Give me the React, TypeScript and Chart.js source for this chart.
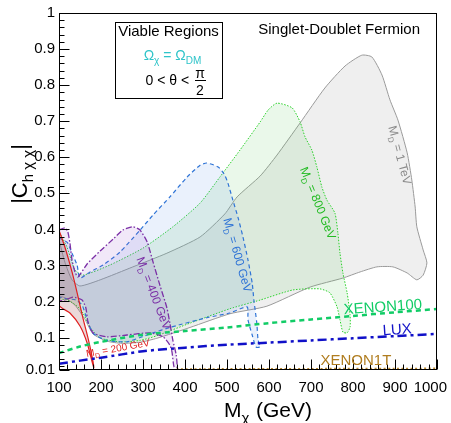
import { useEffect, useRef } from 'react';
import { Chart, registerables } from 'chart.js';

Chart.register(...registerables);

const FONT = '"Liberation Sans", Arial, Helvetica, sans-serif';

// Axis ticks
const X_TICKS = [100, 200, 300, 400, 500, 600, 700, 800, 900, 1000];
const X_TICK_LABELS = ['100', '200', '300', '400', '500', '600', '700', '800', '900', '1000'];
const Y_TICKS = [0.01, 0.1, 0.2, 0.3, 0.4, 0.5, 0.6, 0.7, 0.8, 0.9, 1];
const Y_TICK_LABELS = ['0.01', '0.1', '0.2', '0.3', '0.4', '0.5', '0.6', '0.7', '0.8', '0.9', '1'];

// Viable-region contours: M_chi (GeV) and |C_h chi chi|
const MD1000_M = [100, 114, 131, 150, 198, 276, 357, 436, 495, 524, 579, 619, 674, 733, 781, 821, 845, 869, 888, 907, 929, 940, 948, 952, 967, 976, 967, 952, 929, 895, 857, 817, 776, 698, 595, 507, 412, 333, 293, 250, 214, 181, 162, 138, 114, 100];
const MD1000_C = [0.371, 0.309, 0.260, 0.243, 0.260, 0.296, 0.334, 0.379, 0.443, 0.490, 0.548, 0.606, 0.695, 0.792, 0.853, 0.883, 0.878, 0.828, 0.759, 0.703, 0.612, 0.537, 0.462, 0.407, 0.343, 0.307, 0.273, 0.260, 0.279, 0.296, 0.296, 0.282, 0.265, 0.240, 0.187, 0.166, 0.128, 0.098, 0.087, 0.084, 0.090, 0.110, 0.150, 0.190, 0.210, 0.218];

const MD800_M = [100, 107, 119, 131, 138, 157, 221, 300, 371, 436, 483, 531, 579, 598, 619, 655, 674, 686, 702, 714, 726, 738, 757, 764, 769, 776, 786, 793, 793, 786, 776, 769, 762, 745, 721, 657, 579, 507, 412, 333, 293, 245, 198, 174, 157, 143, 121, 100];
const MD800_C = [0.393, 0.379, 0.351, 0.309, 0.287, 0.273, 0.301, 0.348, 0.407, 0.473, 0.545, 0.620, 0.698, 0.731, 0.750, 0.737, 0.698, 0.656, 0.620, 0.573, 0.517, 0.481, 0.445, 0.390, 0.334, 0.279, 0.224, 0.163, 0.129, 0.113, 0.115, 0.149, 0.185, 0.224, 0.235, 0.232, 0.204, 0.180, 0.140, 0.105, 0.092, 0.088, 0.099, 0.129, 0.168, 0.187, 0.204, 0.210];

const MD600_M = [100, 110, 121, 131, 143, 150, 174, 205, 245, 293, 324, 364, 405, 436, 452, 479, 493, 502, 514, 526, 538, 550, 560, 564, 571, 574, 579, 569, 560, 550, 548, 507, 452, 364, 324, 293, 262, 214, 181, 167, 155, 140, 100];
const MD600_C = [0.376, 0.371, 0.362, 0.334, 0.301, 0.265, 0.282, 0.301, 0.337, 0.398, 0.440, 0.490, 0.545, 0.578, 0.584, 0.573, 0.554, 0.529, 0.481, 0.434, 0.379, 0.315, 0.251, 0.204, 0.140, 0.093, 0.074, 0.074, 0.107, 0.149, 0.185, 0.168, 0.155, 0.128, 0.113, 0.100, 0.088, 0.092, 0.112, 0.149, 0.190, 0.204, 0.215];

const MD400_M = [100, 114, 121, 126, 131, 138, 145, 167, 198, 229, 252, 276, 293, 310, 324, 340, 357, 364, 371, 379, 381, 374, 369, 364, 348, 317, 262, 214, 181, 169, 164, 155, 133, 114, 100];
const MD400_C = [0.398, 0.404, 0.393, 0.362, 0.315, 0.282, 0.268, 0.304, 0.340, 0.373, 0.398, 0.407, 0.398, 0.365, 0.309, 0.246, 0.182, 0.140, 0.093, 0.052, 0.018, 0.018, 0.060, 0.079, 0.102, 0.113, 0.107, 0.102, 0.113, 0.143, 0.182, 0.204, 0.212, 0.204, 0.204];

const MD200_M = [100, 114, 131, 145, 157, 169, 179, 183, 179, 167, 150, 126, 100];
const MD200_C = [0.398, 0.351, 0.282, 0.215, 0.154, 0.099, 0.046, 0.016, 0.032, 0.085, 0.132, 0.168, 0.190];

// Direct-detection limits
const XENON100_M = [100, 150, 200, 300, 400, 500, 600, 700, 800, 900, 1000];
const XENON100_C = [0.057, 0.075, 0.088, 0.108, 0.118, 0.128, 0.140, 0.150, 0.160, 0.170, 0.179];
const LUX_M = [100, 150, 200, 300, 400, 500, 600, 700, 800, 900, 1000];
const LUX_C = [0.027, 0.036, 0.044, 0.062, 0.072, 0.080, 0.086, 0.092, 0.098, 0.104, 0.110];
const XENON1T_M = [380, 500, 600, 700, 800, 900, 1000];
const XENON1T_C = [0.012, 0.0125, 0.013, 0.013, 0.0135, 0.0135, 0.014];

type Part = { t: string; sub?: boolean };

function drawParts(ctx: CanvasRenderingContext2D, parts: Part[], x: number, y: number, size: number, color: string, align: 'left' | 'center' | 'right' = 'center') {
  ctx.fillStyle = color;
  ctx.textBaseline = 'alphabetic';
  ctx.textAlign = 'left';
  const fontOf = (p: Part) => `${p.sub ? Math.round(size * 0.7) : size}px ${FONT}`;
  const widths = parts.map((p) => {
    ctx.font = fontOf(p);
    return ctx.measureText(p.t).width;
  });
  const total = widths.reduce((a, b) => a + b, 0);
  let cx = align === 'center' ? x - total / 2 : align === 'right' ? x - total : x;
  parts.forEach((p, i) => {
    ctx.font = fontOf(p);
    ctx.fillText(p.t, cx, y + (p.sub ? size * 0.28 : 0));
    cx += widths[i];
  });
}

const REGION_LABELS = [
  { text: ' = 200 GeV', m: 240, c: 0.071, angle: -10, size: 10, color: '#e02020' },
  { text: ' = 400 GeV', m: 326, c: 0.223, angle: 69, size: 12, color: '#7b2fa6' },
  { text: ' = 600 GeV', m: 526, c: 0.329, angle: 74, size: 12, color: '#2f74d6' },
  { text: ' = 800 GeV', m: 717, c: 0.473, angle: 68, size: 12, color: '#22bb22' },
  { text: ' = 1 TeV', m: 912, c: 0.606, angle: 75, size: 12, color: '#8a8a8a' },
];

const LIMIT_LABELS = [
  { text: 'XENON100', m: 871, c: 0.187, angle: -4, size: 15, color: '#11cc66' },
  { text: 'LUX', m: 905, c: 0.124, angle: -4, size: 15, color: '#1414c8' },
  { text: 'XENON1T', m: 807, c: 0.040, angle: 0, size: 15, color: '#b07d1f' },
];

const rootPlugin = {
  id: 'rootStyle',
  afterDatasetsDraw(chart: any) {
    const { ctx, chartArea: a, scales } = chart;
    const xs = scales.x;
    const ys = scales.y;
    ctx.save();
    // frame
    ctx.strokeStyle = '#000';
    ctx.lineWidth = 1;
    ctx.setLineDash([]);
    const L = Math.round(a.left) + 0.5;
    const T = Math.round(a.top) + 0.5;
    const R = Math.round(a.right) - 0.5;
    const B = Math.round(a.bottom) - 0.5;
    ctx.strokeRect(L, T, R - L, B - T);
    // ticks
    ctx.beginPath();
    X_TICKS.forEach((v) => {
      const p = Math.round(xs.getPixelForValue(v)) + 0.5;
      ctx.moveTo(p, B);
      ctx.lineTo(p, B - 10);
    });
    for (let k = 0; k <= 45; k++) {
      if (k % 5 === 0) continue;
      const p = Math.round(xs.getPixelForValue(100 + 20 * k)) + 0.5;
      ctx.moveTo(p, B);
      ctx.lineTo(p, B - 5);
    }
    Y_TICKS.forEach((v) => {
      const p = Math.round(ys.getPixelForValue(v)) + 0.5;
      ctx.moveTo(L, p);
      ctx.lineTo(L + 10, p);
    });
    for (let k = 1; k < 50; k++) {
      if (k % 5 === 0) continue;
      const p = Math.round(ys.getPixelForValue(k * 0.02)) + 0.5;
      ctx.moveTo(L, p);
      ctx.lineTo(L + 5, p);
    }
    ctx.stroke();

    // x tick labels
    ctx.font = `15px ${FONT}`;
    ctx.fillStyle = '#000';
    ctx.textAlign = 'center';
    ctx.textBaseline = 'alphabetic';
    X_TICKS.forEach((v, i) => {
      const w = ctx.measureText(X_TICK_LABELS[i]).width;
      let p = xs.getPixelForValue(v);
      if (p + w / 2 > chart.width - 4) p = chart.width - 4 - w / 2;
      ctx.fillText(X_TICK_LABELS[i], p, a.bottom + 22);
    });

    // axis titles
    drawParts(ctx, [{ t: 'M' }, { t: 'χ', sub: true }], 224, 417, 21, '#000', 'left');
    drawParts(ctx, [{ t: '(GeV)' }], 256, 417, 21, '#000', 'left');
    ctx.save();
    ctx.translate(19, 174);
    ctx.rotate(-Math.PI / 2);
    drawParts(ctx, [{ t: '|C' }, { t: 'h χ χ', sub: true }, { t: '|' }], 0, 8, 22, '#000', 'center');
    ctx.restore();

    // region labels
    REGION_LABELS.forEach((l) => {
      ctx.save();
      ctx.translate(xs.getPixelForValue(l.m), ys.getPixelForValue(l.c));
      ctx.rotate((l.angle * Math.PI) / 180);
      drawParts(ctx, [{ t: 'M' }, { t: 'D', sub: true }, { t: l.text }], 0, l.size * 0.35, l.size, l.color, 'center');
      ctx.restore();
    });
    LIMIT_LABELS.forEach((l) => {
      ctx.save();
      ctx.translate(xs.getPixelForValue(l.m), ys.getPixelForValue(l.c));
      ctx.rotate((l.angle * Math.PI) / 180);
      drawParts(ctx, [{ t: l.text }], 0, l.size * 0.36, l.size, l.color, 'center');
      ctx.restore();
    });

    // title
    drawParts(ctx, [{ t: 'Singlet-Doublet Fermion' }], xs.getPixelForValue(767), a.top + 21, 15, '#000', 'center');

    // legend box
    const bx0 = Math.round(xs.getPixelForValue(233));
    const bx1 = Math.round(xs.getPixelForValue(488));
    const by0 = Math.round(ys.getPixelForValue(0.975));
    const by1 = Math.round(ys.getPixelForValue(0.764));
    ctx.fillStyle = '#fff';
    ctx.fillRect(bx0, by0, bx1 - bx0, by1 - by0);
    ctx.strokeStyle = '#000';
    ctx.lineWidth = 1;
    ctx.strokeRect(bx0 + 0.5, by0 + 0.5, bx1 - bx0, by1 - by0);
    const cx = (bx0 + bx1) / 2;
    drawParts(ctx, [{ t: 'Viable Regions' }], cx, by0 + 14, 15, '#000', 'center');
    drawParts(ctx, [{ t: 'Ω' }, { t: 'χ', sub: true }, { t: ' = Ω' }, { t: 'DM', sub: true }], cx + 4, by0 + 38, 14, '#2ec4c9', 'center');
    drawParts(ctx, [{ t: '0 < θ < ' }], bx0 + 78, by0 + 63, 14, '#000', 'right');
    drawParts(ctx, [{ t: 'π' }], bx0 + 85, by0 + 56, 14, '#000', 'center');
    ctx.fillStyle = '#000';
    ctx.fillRect(bx0 + 80, by0 + 58, 11, 1);
    drawParts(ctx, [{ t: '2' }], bx0 + 85, by0 + 73, 14, '#000', 'center');
    ctx.restore();
  },
};

function pts(M: number[], C: number[], close: boolean) {
  const d = M.map((m, i) => ({ x: m, y: C[i] }));
  if (close) d.push({ x: M[0], y: C[0] });
  return d;
}

export default function App() {
  const ref = useRef<HTMLCanvasElement>(null);
  useEffect(() => {
    const canvas = ref.current;
    if (!canvas) return;
    const region = (M: number[], C: number[], line: string, fill: string, dash: number[], width: number) => ({
      data: pts(M, C, true),
      borderColor: line,
      backgroundColor: fill,
      borderWidth: width,
      borderDash: dash,
      fill: 'shape',
      pointRadius: 0,
      tension: 0.2,
    });
    const limit = (M: number[], C: number[], line: string, dash: number[], width: number) => ({
      data: pts(M, C, false),
      borderColor: line,
      borderWidth: width,
      borderDash: dash,
      fill: false,
      pointRadius: 0,
      tension: 0.3,
    });
    const chart = new Chart(canvas, {
      type: 'line',
      data: {
        datasets: [
          limit(XENON100_M, XENON100_C, '#11cc66', [5, 4], 2.5),
          limit(LUX_M, LUX_C, '#1010c8', [9, 4, 3, 4], 2.5),
          limit(XENON1T_M, XENON1T_C, '#b8862b', [2, 2.5], 2),
          region(MD200_M, MD200_C, '#e02020', 'rgba(170,90,95,0.24)', [], 1.2),
          region(MD400_M, MD400_C, '#7b2fa6', 'rgba(150,80,200,0.13)', [6, 2, 1.5, 2], 1.3),
          region(MD600_M, MD600_C, '#2f74d6', 'rgba(90,150,230,0.13)', [4, 3], 1.2),
          region(MD800_M, MD800_C, '#2bd12b', 'rgba(80,200,80,0.12)', [1.5, 1.5], 1),
          region(MD1000_M, MD1000_C, '#9a9a9a', 'rgba(140,140,140,0.14)', [], 1),
        ] as any,
      },
      options: {
        responsive: false,
        animation: false,
        devicePixelRatio: 1,
        layout: { padding: { left: 0, right: 14, top: 13, bottom: 0 } },
        plugins: { legend: { display: false }, tooltip: { enabled: false }, title: { display: false } },
        scales: {
          x: {
            type: 'linear',
            min: 100,
            max: 1000,
            grid: { display: false, drawTicks: false },
            border: { display: false },
            ticks: { display: false },
            afterFit: (s: any) => {
              s.height = 53;
            },
          },
          y: {
            type: 'linear',
            min: 0.01,
            max: 1,
            grid: { display: false, drawTicks: false },
            border: { display: false },
            afterBuildTicks: (s: any) => {
              s.ticks = Y_TICKS.map((v) => ({ value: v }));
            },
            ticks: {
              autoSkip: false,
              padding: 4,
              color: '#000',
              font: { family: FONT, size: 15 },
              callback: (_v: any, i: number) => Y_TICK_LABELS[i],
            },
            afterFit: (s: any) => {
              s.width = 59;
            },
          },
        },
      } as any,
      plugins: [rootPlugin as any],
    });
    return () => chart.destroy();
  }, []);
  return (
    <canvas
      ref={ref}
      width={451}
      height={423}
      style={{ position: 'fixed', left: 0, top: 0, width: 451, height: 423, background: '#fff' }}
    />
  );
}
